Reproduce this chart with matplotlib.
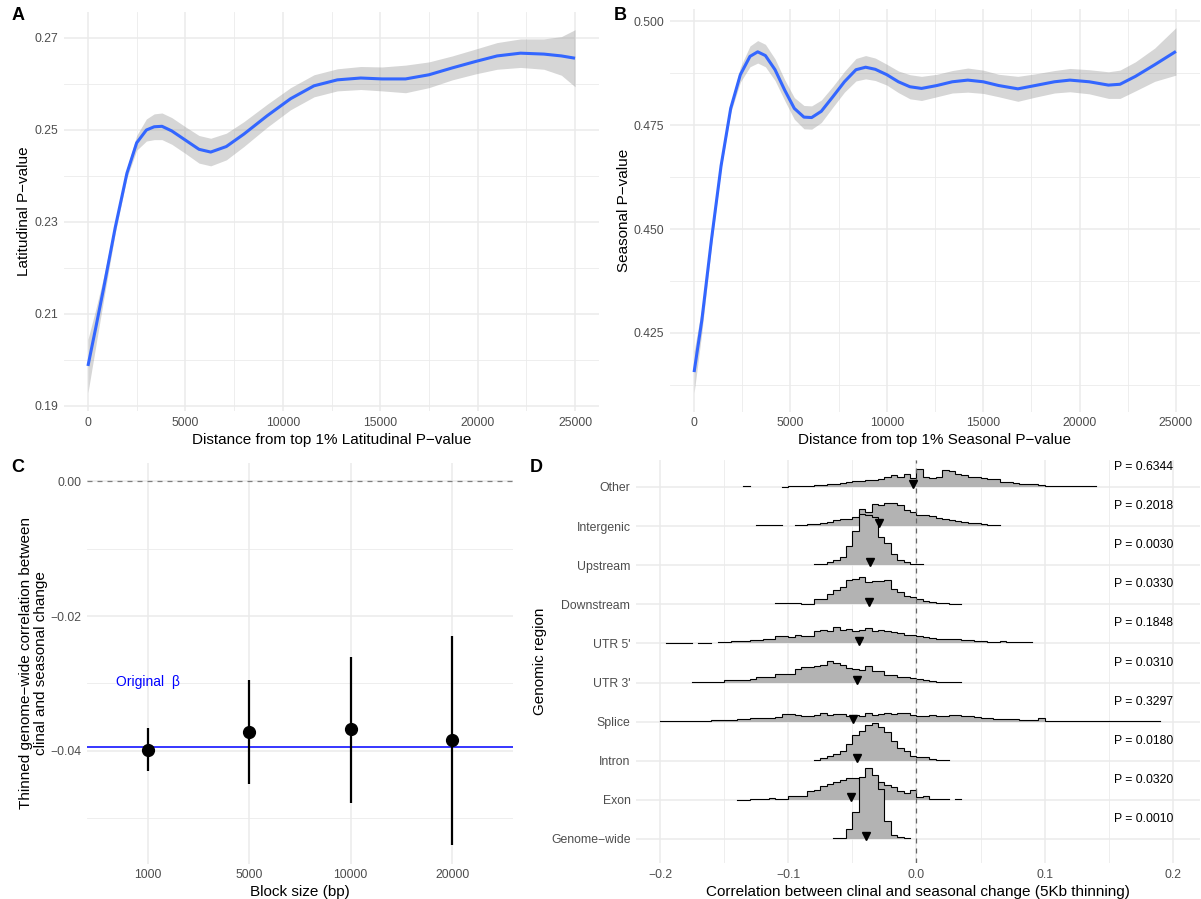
import matplotlib.pyplot as plt
from matplotlib.ticker import FixedLocator, FuncFormatter

plt.rcParams['font.family'] = ['Liberation Sans', 'DejaVu Sans']

# --- A: latitudinal P-value vs distance (smooth fit + band) ---
dist_a = [0, 400, 800, 1400, 2000, 2500, 3000, 3400, 3800, 4300, 5000, 5700, 6300, 7100,
          8000, 9200, 10400, 11600, 12800, 14000, 15100, 16300, 17500, 18700, 19900,
          21000, 22200, 23400, 24300, 25000]
lat_fit = [0.1987, 0.2070, 0.2155, 0.2288, 0.2406, 0.2472, 0.2500, 0.2507, 0.2508, 0.2498,
           0.2478, 0.2458, 0.2452, 0.2464, 0.2491, 0.2531, 0.2568, 0.2596, 0.2609, 0.2613,
           0.2611, 0.2611, 0.2620, 0.2635, 0.2649, 0.2661, 0.2667, 0.2665, 0.2661, 0.2656]
lat_se = [0.0058, 0.0040, 0.0025, 0.0012, 0.0010, 0.0016, 0.0024, 0.0028, 0.0029, 0.0029,
          0.0029, 0.0030, 0.0030, 0.0029, 0.0027, 0.0025, 0.0024, 0.0024, 0.0024, 0.0025,
          0.0026, 0.0030, 0.0028, 0.0026, 0.0027, 0.0029, 0.0031, 0.0033, 0.0042, 0.0062]

# --- B: seasonal P-value vs distance ---
dist_b = [0, 400, 900, 1400, 1900, 2400, 2900, 3300, 3700, 4200, 4700, 5200, 5700, 6100,
          6600, 7200, 7800, 8400, 8900, 9400, 10000, 10600, 11200, 11800, 12600, 13400,
          14200, 15000, 15800, 16800, 17700, 18700, 19500, 20500, 21500, 22100, 22900,
          23900, 25000]
sea_fit = [0.4156, 0.4280, 0.4474, 0.4652, 0.4790, 0.4871, 0.4915, 0.4926, 0.4917, 0.4883,
           0.4834, 0.4790, 0.4769, 0.4768, 0.4783, 0.4818, 0.4854, 0.4883, 0.4889, 0.4884,
           0.4871, 0.4854, 0.4842, 0.4838, 0.4845, 0.4854, 0.4858, 0.4854, 0.4845, 0.4837,
           0.4845, 0.4854, 0.4858, 0.4854, 0.4846, 0.4848, 0.4867, 0.4895, 0.4927]
sea_se = [0.0050, 0.0030, 0.0015, 0.0008, 0.0010, 0.0018, 0.0025, 0.0027, 0.0027, 0.0026,
          0.0025, 0.0026, 0.0028, 0.0028, 0.0027, 0.0025, 0.0025, 0.0027, 0.0028, 0.0027,
          0.0025, 0.0026, 0.0029, 0.0029, 0.0027, 0.0027, 0.0029, 0.0028, 0.0027, 0.0030,
          0.0028, 0.0027, 0.0028, 0.0029, 0.0032, 0.0034, 0.0035, 0.0040, 0.0057]

# --- C: thinned correlation by block size ---
block_sizes = ["1000", "5000", "10000", "20000"]
thin_beta = [-0.0398, -0.0372, -0.0368, -0.0384]
thin_lo = [-0.0430, -0.0449, -0.0477, -0.0540]
thin_hi = [-0.0366, -0.0295, -0.0261, -0.0229]
original_beta = -0.0394

# --- D: per-region histograms (bottom row first), bin width 0.005 ---
regions = ["Genome\u2212wide", "Exon", "Intron", "Splice", "UTR 3'", "UTR 5'",
           "Downstream", "Upstream", "Intergenic", "Other"]
region_p = ["0.0010", "0.0320", "0.0180", "0.3297", "0.0310", "0.1848",
            "0.0330", "0.0030", "0.2018", "0.6344"]
region_mean = [-0.039, -0.051, -0.0466, -0.0497, -0.046, -0.045,
               -0.0368, -0.036, -0.029, -0.003]
hist_start = [-0.065, -0.140, -0.080, -0.200, -0.175, -0.195,
              -0.110, -0.080, -0.125, -0.135]
BIN_W = 0.005
# bar heights (39 = one row of spacing)
hist_genome = [1, 1, 10, 27, 62, 71, 64, 50, 18, 4, 1.5, 1]
hist_exon = [0.3, 0.3, 0.5, 0.5, 0.5, 1.7, 0.7, 1, 3.5, 4, 4, 9, 9.7, 14, 15.7, 18, 20, 22,
             21.5, 20, 20, 19, 18, 15, 13, 9, 7, 9.7, 3, 4, 0.7, 0.7, 0.7, 0, 0.5]
hist_intron = [0.7, 2.7, 5, 6.4, 10, 17, 26, 30, 36, 38, 34, 29, 20, 13, 10, 5, 4, 3.3, 2,
               1, 0.7]
hist_splice = [0.7, 0.7, 0.3, 0.2, 1, 1, 0.3, 0.3, 1.4, 1.4, 2, 2, 2.5, 2.7, 3.4, 3.4, 4, 4,
               5, 7.5, 7.5, 6.8, 6, 5.5, 7, 9, 6.8, 7.5, 7.5, 6, 6.8, 6, 8.2, 6.8, 7.5, 9,
               7.8, 8.5, 8.8, 6.8, 5.8, 5.8, 6.8, 5.8, 5.8, 6.5, 6.5, 5.5, 5.5, 4.5, 4, 3.8,
               3.1, 3.1, 2.4, 2.4, 2, 1.4, 1.4, 3.4, 1, 1, 1, 0.7, 0.7, 0.3, 0.3, 0.3, 0.3,
               0.3, 0.3, 0.3, 0.3, 0.3, 0.3, 0.3, 0.3, 0.3]
hist_utr3 = [1, 1, 1, 1, 1, 3, 3, 3, 3, 4, 5.3, 5.3, 5.3, 8.7, 8.7, 8.7, 13.7, 15, 15.3,
             16.7, 17.7, 21, 19.5, 17, 14, 13, 12.7, 16, 11, 11, 7.7, 7.7, 5.3, 5.3, 5,
             3.7, 3, 2, 1, 1, 1, 1]
hist_utr5 = [0.3, 0.3, 0.3, 0.3, 0, 0.7, 0.7, 0, 1, 1.3, 2, 2.3, 2.5, 3.3, 3.5, 4.5, 4.7,
             7.3, 7, 6.3, 8, 7, 7, 12, 13, 12, 16, 13, 14, 12, 13, 15, 12, 13, 12, 11, 10,
             8, 8, 7, 6, 5.5, 4.7, 4.7, 4.5, 4, 3.7, 3, 2.3, 2.3, 1.7, 1.3, 2, 1, 1.3, 1, 1]
hist_downstream = [1, 1.5, 1.7, 1.5, 0.7, 0.7, 5, 5, 10, 14, 17, 24, 25, 27, 22, 23, 23, 24,
                   15, 12, 8, 7, 5, 3, 2, 1.7, 1, 0.7, 0.7]
hist_upstream = [1, 1.5, 3, 5, 8, 19, 34, 51, 50, 48, 28, 22, 11, 5, 2.7, 1.5, 1]
hist_intergenic = [0.7, 0.7, 0.7, 0.7, 0, 0, 1, 1.3, 1.7, 2.5, 3, 4, 6, 7, 7, 9, 17, 14, 22,
                   21, 23, 23, 21, 16, 14, 11, 11, 10, 8, 7, 6, 5, 4, 3, 3, 2, 1.5, 1]
hist_other = [0.5, 0, 0, 0, 0, 0, 0.3, 0.5, 0.7, 1, 1.2, 1.7, 2, 2.5, 3, 4, 5, 5.5, 6, 7, 7,
              8, 10, 12, 10, 13, 9, 18, 10, 9, 10, 17, 16, 13, 12, 10, 10, 9, 8, 8, 5, 5, 4,
              3, 3, 3, 2, 1, 1, 1, 1, 1, 0.7, 0.5, 0.5]
hist_heights = [hist_genome, hist_exon, hist_intron, hist_splice, hist_utr3, hist_utr5,
                hist_downstream, hist_upstream, hist_intergenic, hist_other]

W, H = 1201, 899
fig = plt.figure(figsize=(W / 100, H / 100), dpi=100)
fig.patch.set_facecolor("white")


def add_panel(left, top, right, bottom):
    return fig.add_axes([left / W, 1 - bottom / H, (right - left) / W, (bottom - top) / H])


def minimal_theme(ax):
    for s in ax.spines.values():
        s.set_visible(False)
    ax.tick_params(which="both", length=0, labelsize=8.8, labelcolor="#4D4D4D", pad=4)
    ax.grid(which="major", color="#EBEBEB", lw=1.1)
    ax.grid(which="minor", color="#EBEBEB", lw=0.6)
    ax.set_axisbelow(True)


def num_fmt(dec):
    return FuncFormatter(lambda v, pos: f"{v:.{dec}f}".replace("-", "\u2212"))


def smooth_panel(ax, x, fit, se, xlabel, ylabel):
    lo = [f - s for f, s in zip(fit, se)]
    hi = [f + s for f, s in zip(fit, se)]
    ax.fill_between(x, lo, hi, color="#999999", alpha=0.4, lw=0, zorder=2)
    ax.plot(x, fit, color="#3366FF", lw=2.2, zorder=3, solid_capstyle="butt")
    ax.set_xlim(-1250, 26250)
    ax.xaxis.set_major_locator(FixedLocator(range(0, 25001, 5000)))
    ax.xaxis.set_minor_locator(FixedLocator(range(2500, 25000, 5000)))
    ax.xaxis.set_major_formatter(FuncFormatter(lambda v, p: f"{int(v)}"))
    ax.set_xlabel(xlabel, fontsize=11, labelpad=3)
    ax.set_ylabel(ylabel, fontsize=11, labelpad=2)
    minimal_theme(ax)


# ---------- A ----------
axA = add_panel(63.6, 12, 599.4, 411)
smooth_panel(axA, dist_a, lat_fit, lat_se,
             "Distance from top 1% Latitudinal P\u2212value", "Latitudinal P\u2212value")
axA.set_ylim(0.18891, 0.27565)
axA.yaxis.set_major_locator(FixedLocator([0.19, 0.21, 0.23, 0.25, 0.27]))
axA.yaxis.set_minor_locator(FixedLocator([0.20, 0.22, 0.24, 0.26]))
axA.yaxis.set_major_formatter(num_fmt(2))

# ---------- B ----------
axB = add_panel(670, 9.4, 1200, 411.6)
smooth_panel(axB, dist_b, sea_fit, sea_se,
             "Distance from top 1% Seasonal P\u2212value", "Seasonal P\u2212value")
axB.set_ylim(0.4061, 0.5028)
axB.yaxis.set_major_locator(FixedLocator([0.425, 0.450, 0.475, 0.500]))
axB.yaxis.set_minor_locator(FixedLocator([0.4125, 0.4375, 0.4625, 0.4875]))
axB.yaxis.set_major_formatter(num_fmt(3))

# ---------- C ----------
axC = add_panel(87.2, 462.8, 512.9, 863.7)
pos = list(range(len(block_sizes)))
axC.axhline(0, color="#7F7F7F", lw=0.9, ls=(0, (4, 4)), zorder=2)
axC.axhline(original_beta, color="#0000FF", lw=1.1, zorder=2)
axC.vlines(pos, thin_lo, thin_hi, color="black", lw=1.6, zorder=3)
axC.plot(pos, thin_beta, "o", color="black", ms=8.5, zorder=4)
axC.text(0, -0.0298, "Original  \u03b2", color="#0000FF", fontsize=10,
         ha="center", va="center")
axC.set_xlim(-0.6, 3.6)
axC.set_ylim(-0.0567, 0.0027)
axC.set_xticks(pos)
axC.set_xticklabels(block_sizes)
axC.yaxis.set_major_locator(FixedLocator([-0.04, -0.02, 0.0]))
axC.yaxis.set_minor_locator(FixedLocator([-0.05, -0.03, -0.01]))
axC.yaxis.set_major_formatter(num_fmt(2))
axC.set_xlabel("Block size (bp)", fontsize=11, labelpad=3)
axC.set_ylabel("Thinned genome\u2212wide correlation between\nclinal and seasonal change",
               fontsize=11, labelpad=2, linespacing=1.05)
minimal_theme(axC)
axC.grid(which="minor", axis="x", visible=False)

# ---------- D ----------
axD = add_panel(636, 460, 1200, 863)
ROW_PX = 39.0
n = len(regions)
for i in reversed(range(n)):
    base = i + 1
    h = hist_heights[i]
    start = hist_start[i]
    edges = [start + k * BIN_W for k in range(len(h) + 1)]
    tops = [base + v / ROW_PX for v in h]
    z = 2 + (n - i) * 0.1
    axD.stairs(tops, edges, baseline=base, fill=True, color="#B3B3B3", lw=0, zorder=z)
    xs, ys = [], []
    for k, v in enumerate(h):
        if v > 0:
            xs += [edges[k], edges[k + 1]]
            ys += [base + v / ROW_PX, base + v / ROW_PX]
        else:
            xs.append(float("nan"))
            ys.append(float("nan"))
    axD.plot(xs, ys, color="black", lw=0.8, zorder=z + 0.01, solid_joinstyle="miter")
axD.axvline(0, color="#666666", lw=0.9, ls=(0, (4, 4)), zorder=4)
axD.plot(region_mean, [i + 1.07 for i in range(n)], "v", color="black", ms=6,
         zorder=5, ls="none")
for i, p in enumerate(region_p):
    axD.text(0.177, i + 1.51, f"P = {p}", fontsize=8.8, ha="center", va="center")
axD.set_xlim(-0.2187, 0.2211)
axD.set_ylim(0.385, 10.69)
axD.xaxis.set_major_locator(FixedLocator([-0.2, -0.1, 0.0, 0.1, 0.2]))
axD.xaxis.set_minor_locator(FixedLocator([-0.15, -0.05, 0.05, 0.15]))
axD.xaxis.set_major_formatter(num_fmt(1))
axD.set_yticks([i + 1 for i in range(n)])
axD.set_yticklabels(regions)
axD.set_xlabel("Correlation between clinal and seasonal change (5Kb thinning)",
               fontsize=11, labelpad=3)
axD.set_ylabel("Genomic region", fontsize=11, labelpad=3)
minimal_theme(axD)
axD.grid(which="minor", axis="y", visible=False)

# panel letters
for lab, x, y in [("A", 18, 16), ("B", 620, 16), ("C", 18, 467), ("D", 536, 467)]:
    fig.text(x / W, 1 - y / H, lab, fontsize=13, fontweight="bold",
             ha="center", va="center")

fig.savefig("out.png", dpi=100, facecolor="white")
